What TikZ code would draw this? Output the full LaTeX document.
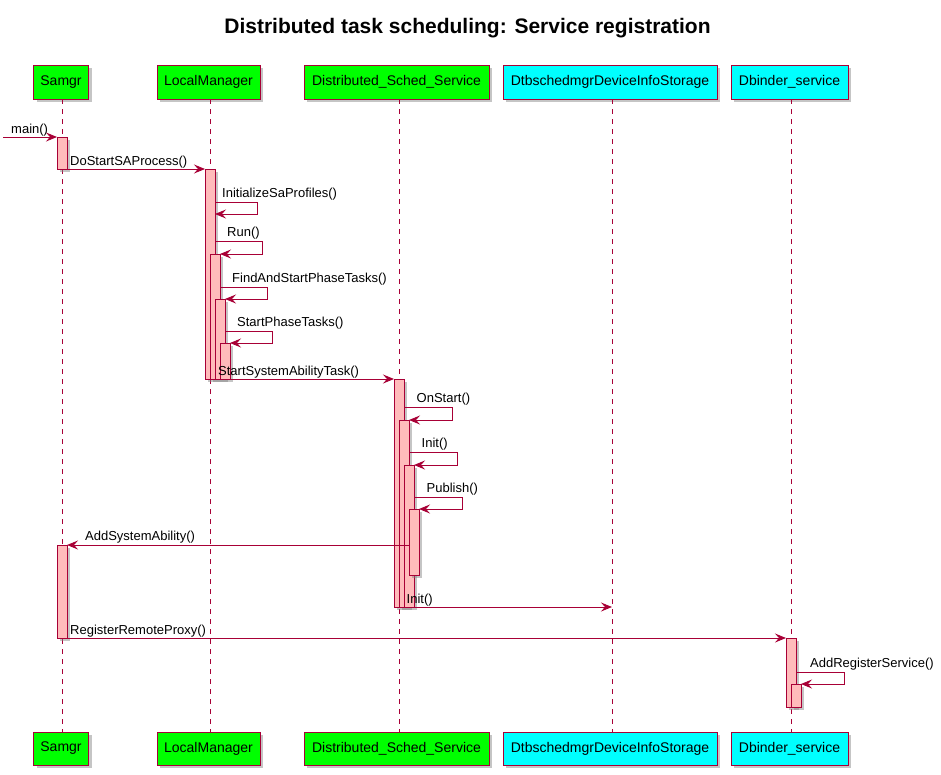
\documentclass[tikz,border=0pt]{standalone}
\usepackage{fontspec}
\setmainfont{Liberation Sans}
\usetikzlibrary{arrows.meta,shadows}
\definecolor{pred}{HTML}{A80036}
\definecolor{pgreen}{HTML}{00FF00}
\definecolor{pcyan}{HTML}{00FFFF}
\definecolor{pbar}{HTML}{FFBBBB}
\tikzset{
  shad/.style={drop shadow={shadow xshift=3pt, shadow yshift=-3pt, fill=black!50, opacity=0.45}},
  part/.style={draw=pred, line width=1pt, minimum height=34pt, inner sep=0pt,
    font=\fontsize{14}{16}\selectfont, shad},
  life/.style={draw=pred, line width=1pt, dash pattern=on 5pt off 5pt},
  actbar/.style={draw=pred, fill=pbar, line width=1pt, shad},
  msg/.style={draw=pred, line width=1pt, -{Stealth[length=11pt,width=9pt,inset=4pt]}},
  lbl/.style={anchor=base west, inner sep=0pt, font=\fontsize{13}{15}\selectfont},
}
\begin{document}
\begin{tikzpicture}[x=1pt,y=-1pt]
\useasboundingbox[fill=white] (0,0) rectangle (941,774);
\node[font=\fontsize{21}{25}\selectfont\bfseries] (title) at (467.5,28) {Distributed task scheduling: Service registration};

% participants top
\node[part, fill=pgreen, minimum width=55pt] (samgrT) at (61,82) {Samgr};
\node[part, fill=pgreen, minimum width=103pt] (lmT) at (208.5,82) {LocalManager};
\node[part, fill=pgreen, minimum width=185pt] (dssT) at (396.5,82) {Distributed\_Sched\_Service};
\node[part, fill=pcyan, minimum width=214pt] (stT) at (610,82) {DtbschedmgrDeviceInfoStorage};
\node[part, fill=pcyan, minimum width=117pt] (dbT) at (789.5,82) {Dbinder\_service};
% participants bottom
\node[part, fill=pgreen, minimum width=55pt, minimum height=33pt] (samgrB) at (61,748.5) {Samgr};
\node[part, fill=pgreen, minimum width=103pt, minimum height=33pt] (lmB) at (208.5,748.5) {LocalManager};
\node[part, fill=pgreen, minimum width=185pt, minimum height=33pt] (dssB) at (396.5,748.5) {Distributed\_Sched\_Service};
\node[part, fill=pcyan, minimum width=214pt, minimum height=33pt] (stB) at (610,748.5) {DtbschedmgrDeviceInfoStorage};
\node[part, fill=pcyan, minimum width=117pt, minimum height=33pt] (dbB) at (789.5,748.5) {Dbinder\_service};

% lifelines
\coordinate (l1a) at (62,99);   \coordinate (l1b) at (62,732);
\coordinate (l2a) at (210,99);  \coordinate (l2b) at (210,732);
\coordinate (l3a) at (399,99);  \coordinate (l3b) at (399,732);
\coordinate (l4a) at (612,99);  \coordinate (l4b) at (612,732);
\coordinate (l5a) at (791,99);  \coordinate (l5b) at (791,732);
\draw[life] (l1a) -- (l1b);
\draw[life] (l2a) -- (l2b);
\draw[life] (l3a) -- (l3b);
\draw[life] (l4a) -- (l4b);
\draw[life] (l5a) -- (l5b);

% activation bars
\path[actbar] (57,137) rectangle (67,169);
\path[actbar] (57,545) rectangle (67,638);
\path[actbar] (205,169) rectangle (215,379);
\path[actbar] (210,254) rectangle (220,379);
\path[actbar] (215,299) rectangle (225,379);
\path[actbar] (220,343) rectangle (230,379);
\path[actbar] (394,379) rectangle (404,607);
\path[actbar] (399,420) rectangle (409,607);
\path[actbar] (404,465) rectangle (414,607);
\path[actbar] (409,509) rectangle (419,575);
\path[actbar] (786,638) rectangle (796,707);
\path[actbar] (791,684) rectangle (801,707);

% message endpoints
\coordinate (m1a) at (3,137);     \coordinate (m1b) at (57,137);
\coordinate (m2a) at (67,169);    \coordinate (m2b) at (205,169);
\coordinate (m3a) at (215,202);   \coordinate (m3b) at (257.5,202); \coordinate (m3c) at (257.5,214); \coordinate (m3d) at (215,214);
\coordinate (m4a) at (215,241);   \coordinate (m4b) at (262.5,241); \coordinate (m4c) at (262.5,254); \coordinate (m4d) at (220,254);
\coordinate (m5a) at (220,287);   \coordinate (m5b) at (267.5,287); \coordinate (m5c) at (267.5,299); \coordinate (m5d) at (225,299);
\coordinate (m6a) at (225,331);   \coordinate (m6b) at (272.5,331); \coordinate (m6c) at (272.5,343); \coordinate (m6d) at (230,343);
\coordinate (m7a) at (205,379);   \coordinate (m7b) at (394,379);
\coordinate (m8a) at (404,407);   \coordinate (m8b) at (452,407); \coordinate (m8c) at (452,420); \coordinate (m8d) at (409,420);
\coordinate (m9a) at (409,452);   \coordinate (m9b) at (457,452); \coordinate (m9c) at (457,465); \coordinate (m9d) at (414,465);
\coordinate (m10a) at (414,497);  \coordinate (m10b) at (462,497); \coordinate (m10c) at (462,509); \coordinate (m10d) at (419,509);
\coordinate (m11a) at (409,545);  \coordinate (m11b) at (67,545);
\coordinate (m12a) at (394,607);  \coordinate (m12b) at (612,607);
\coordinate (m13a) at (57,638);   \coordinate (m13b) at (786,638);
\coordinate (m14a) at (796,672);  \coordinate (m14b) at (844,672); \coordinate (m14c) at (844,684); \coordinate (m14d) at (801,684);

% messages
\draw[msg] (m1a) -- (m1b);
\draw[msg] (m2a) -- (m2b);
\draw[msg] (m3a) -- (m3b) -- (m3c) -- (m3d);
\draw[msg] (m4a) -- (m4b) -- (m4c) -- (m4d);
\draw[msg] (m5a) -- (m5b) -- (m5c) -- (m5d);
\draw[msg] (m6a) -- (m6b) -- (m6c) -- (m6d);
\draw[msg] (m7a) -- (m7b);
\draw[msg] (m8a) -- (m8b) -- (m8c) -- (m8d);
\draw[msg] (m9a) -- (m9b) -- (m9c) -- (m9d);
\draw[msg] (m10a) -- (m10b) -- (m10c) -- (m10d);
\draw[msg] (m11a) -- (m11b);
\draw[msg] (m12a) -- (m12b);
\draw[msg] (m13a) -- (m13b);
\draw[msg] (m14a) -- (m14b) -- (m14c) -- (m14d);

% labels
\node[lbl] (t1) at (11,133.5) {main()};
\node[lbl] (t2) at (70,165.5) {DoStartSAProcess()};
\node[lbl] (t3) at (222,197.5) {InitializeSaProfiles()};
\node[lbl] (t4) at (227,236.5) {Run()};
\node[lbl] (t5) at (232,282.5) {FindAndStartPhaseTasks()};
\node[lbl] (t6) at (237,326.5) {StartPhaseTasks()};
\node[lbl] (t7) at (218,375.5) {StartSystemAbilityTask()};
\node[lbl] (t8) at (416.5,402.5) {OnStart()};
\node[lbl] (t9) at (421.5,447.5) {Init()};
\node[lbl] (t10) at (426.5,492.5) {Publish()};
\node[lbl] (t11) at (85,540.5) {AddSystemAbility()};
\node[lbl] (t12) at (406.5,603.5) {Init()};
\node[lbl] (t13) at (70,634.5) {RegisterRemoteProxy()};
\node[lbl] (t14) at (810,667.5) {AddRegisterService()};
\end{tikzpicture}
\end{document}
